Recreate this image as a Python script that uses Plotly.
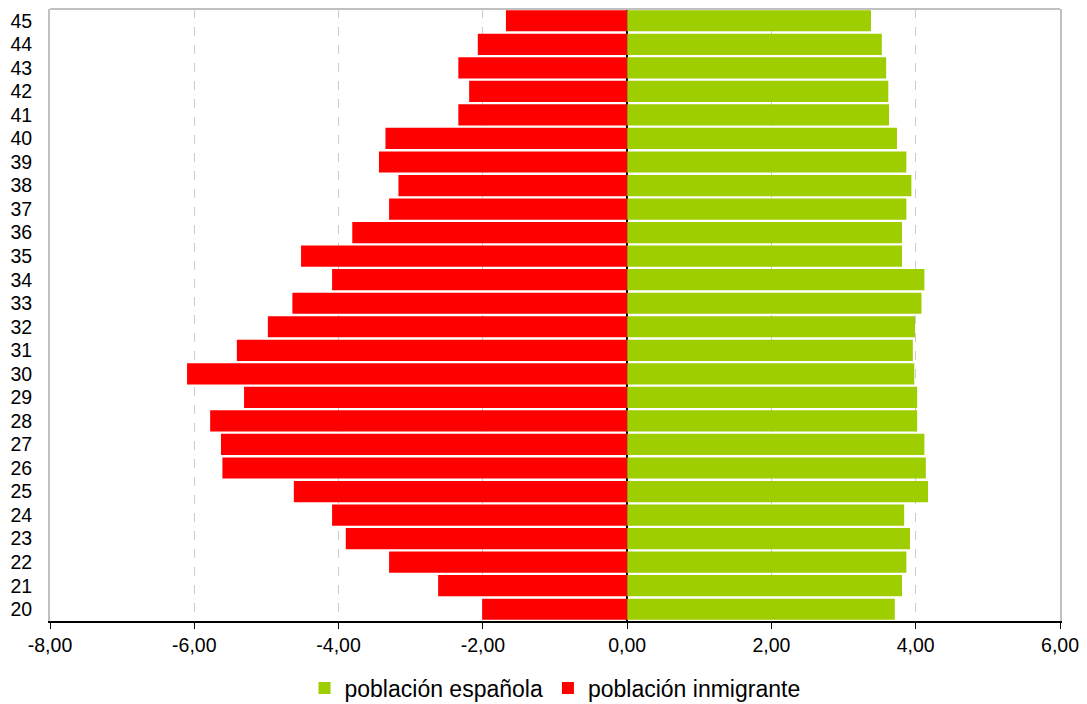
import plotly.graph_objects as go

ages = [str(a) for a in range(20, 46)]
# values for ages 20..45
espanola = [3.71, 3.81, 3.87, 3.92, 3.84, 4.17, 4.14, 4.12, 4.02, 4.02,
            3.98, 3.96, 3.99, 4.08, 4.12, 3.81, 3.81, 3.87, 3.94, 3.87,
            3.74, 3.63, 3.62, 3.59, 3.53, 3.38]
inmigrante = [-2.01, -2.62, -3.30, -3.90, -4.09, -4.62, -5.61, -5.63, -5.78, -5.31,
              -6.10, -5.41, -4.98, -4.64, -4.09, -4.52, -3.81, -3.30, -3.17, -3.44,
              -3.35, -2.34, -2.19, -2.34, -2.07, -1.68]
x_ticks = [-8, -6, -4, -2, 0, 2, 4, 6]
x_tick_labels = ["-8,00", "-6,00", "-4,00", "-2,00", "0,00", "2,00", "4,00", "6,00"]

fig = go.Figure()
fig.add_trace(go.Bar(y=ages, x=espanola, orientation="h", name="población española",
                     marker=dict(color="#9ECD00", line=dict(width=0))))
fig.add_trace(go.Bar(y=ages, x=inmigrante, orientation="h", name="población inmigrante",
                     marker=dict(color="#FF0000", line=dict(width=0))))

fig.update_layout(
    width=1087, height=704,
    barmode="relative", bargap=0.1,
    plot_bgcolor="white", paper_bgcolor="white",
    margin=dict(l=50, r=27, t=9, b=83),
    font=dict(family="Liberation Sans, Arial, sans-serif", size=19.5, color="black"),
    legend=dict(orientation="h", x=0.5, xanchor="center",
                yref="container", y=16 / 704, yanchor="middle",
                font=dict(size=23), itemwidth=30, tracegroupgap=0),
    showlegend=True,
    shapes=[dict(type="line", xref="paper", yref="paper", x0=0, x1=1, y0=1, y1=1,
                 line=dict(color="#c0c0c0", width=2))],
)
fig.update_xaxes(range=[-8, 6], tickvals=x_ticks, ticktext=x_tick_labels,
                 showgrid=True, gridcolor="#cccccc", griddash="dash", gridwidth=1,
                 zeroline=True, zerolinecolor="black", zerolinewidth=1.5,
                 showline=True, linecolor="black", linewidth=1.5,
                 ticks="outside", ticklen=6, tickcolor="black",
                 tickfont=dict(size=19.5), automargin=False)
fig.update_yaxes(type="category", categoryorder="array", categoryarray=ages,
                 showgrid=False, showline=True, linecolor="#c0c0c0", linewidth=2,
                 mirror=True, ticks="", ticklabelstandoff=12,
                 tickfont=dict(size=19.5), automargin=False)

fig.write_html("out.html", config={"displayModeBar": False},
               post_script="document.body.style.margin='0';document.body.style.overflow='hidden';")
